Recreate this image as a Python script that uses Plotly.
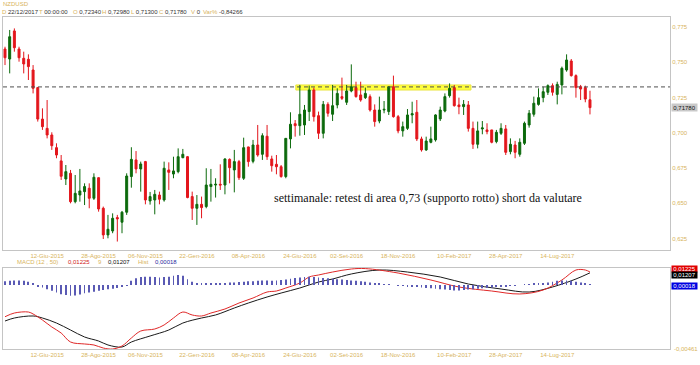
import pandas as pd
import plotly.graph_objects as go

# ---------------- data ----------------
start_date = "2015-04-10"
n_bars = 126
opens = [0.7594,0.7523,0.7722,0.7594,0.7528,0.7521,0.7445,0.7320,0.7097,0.7031,
         0.6984,0.6894,0.6800,0.6672,0.6712,0.6511,0.6558,0.6582,0.6606,0.6535,
         0.6681,0.6464,0.6275,0.6303,0.6398,0.6365,0.6436,0.6689,0.6807,0.6743,
         0.6795,0.6516,0.6523,0.6558,0.6523,0.6736,0.6707,0.6724,0.6823,0.6830,
         0.6547,0.6464,0.6492,0.6476,0.6618,0.6629,0.6634,0.6629,0.6811,0.6736,
         0.6795,0.6677,0.6899,0.6797,0.6913,0.6847,0.6975,0.6814,0.6776,0.6759,
         0.6689,0.6956,0.7064,0.7050,0.7055,0.7150,0.7303,0.7121,0.6996,0.7201,
         0.7131,0.7197,0.7256,0.7216,0.7296,0.7320,0.7268,0.7249,0.7256,0.7161,
         0.7083,0.7161,0.7150,0.7327,0.7114,0.7013,0.7031,0.7126,0.7145,0.6956,
         0.6878,0.6932,0.6949,0.7098,0.7154,0.7263,0.7320,0.7197,0.7185,0.7197,
         0.7031,0.6918,0.7027,0.7020,0.7020,0.6937,0.6996,0.7027,0.6866,0.6913,
         0.6847,0.6925,0.7055,0.7131,0.7201,0.7249,0.7287,0.7334,0.7272,0.7339,
         0.7445,0.7509,0.7405,0.7327,0.7320,0.7234]
highs = [0.7610,0.7729,0.7740,0.7610,0.7575,0.7556,0.7480,0.7325,0.7173,0.7232,
         0.7003,0.6925,0.6842,0.6771,0.6736,0.6700,0.6743,0.6641,0.6641,0.6712,
         0.6684,0.6476,0.6417,0.6428,0.6417,0.6445,0.6712,0.6897,0.6870,0.6795,
         0.6800,0.6580,0.6594,0.6582,0.6795,0.6790,0.6830,0.6889,0.6885,0.6835,
         0.6582,0.6558,0.6547,0.6748,0.6743,0.6677,0.6776,0.6818,0.6818,0.6878,
         0.6807,0.6965,0.6901,0.6949,0.7055,0.6996,0.7055,0.6837,0.6842,0.6771,
         0.6960,0.7145,0.7090,0.7339,0.7197,0.7334,0.7320,0.7150,0.7225,0.7216,
         0.7339,0.7315,0.7391,0.7339,0.7485,0.7362,0.7362,0.7320,0.7272,0.7201,
         0.7256,0.7225,0.7327,0.7405,0.7126,0.7079,0.7168,0.7220,0.7232,0.6972,
         0.6972,0.7043,0.7131,0.7185,0.7279,0.7350,0.7339,0.7249,0.7232,0.7225,
         0.7079,0.7079,0.7083,0.7067,0.7020,0.7020,0.7067,0.7055,0.6960,0.6942,
         0.6960,0.7079,0.7161,0.7256,0.7315,0.7327,0.7343,0.7350,0.7362,0.7469,
         0.7556,0.7523,0.7414,0.7339,0.7334,0.7298]
lows = [0.7480,0.7421,0.7575,0.7504,0.7421,0.7374,0.7279,0.7079,0.7020,0.6960,
        0.6878,0.6819,0.6665,0.6629,0.6499,0.6499,0.6511,0.6487,0.6464,0.6523,
        0.6440,0.6246,0.6251,0.6287,0.6228,0.6287,0.6417,0.6610,0.6712,0.6582,
        0.6492,0.6490,0.6421,0.6492,0.6511,0.6594,0.6677,0.6712,0.6819,0.6535,
        0.6381,0.6346,0.6393,0.6464,0.6511,0.6540,0.6594,0.6563,0.6641,0.6577,
        0.6665,0.6665,0.6759,0.6783,0.6830,0.6807,0.6807,0.6724,0.6705,0.6681,
        0.6677,0.6889,0.6972,0.6979,0.6984,0.7083,0.7079,0.6956,0.6960,0.7114,
        0.7083,0.7173,0.7232,0.7197,0.7287,0.7249,0.7220,0.7239,0.7150,0.7043,
        0.7067,0.7138,0.7126,0.7107,0.6996,0.6972,0.7020,0.7067,0.6941,0.6866,
        0.6871,0.6925,0.6937,0.7083,0.7145,0.7249,0.7185,0.7131,0.7126,0.7008,
        0.6885,0.6889,0.6989,0.6989,0.6925,0.6925,0.6984,0.6842,0.6847,0.6819,
        0.6830,0.6913,0.7036,0.7114,0.7192,0.7216,0.7268,0.7263,0.7201,0.7272,
        0.7433,0.7398,0.7249,0.7232,0.7216,0.7130]
closes = [0.7532,0.7681,0.7603,0.7532,0.7488,0.7469,0.7315,0.7097,0.7043,0.6984,
          0.6908,0.6842,0.6691,0.6724,0.6511,0.6570,0.6587,0.6618,0.6535,0.6684,
          0.6459,0.6275,0.6315,0.6393,0.6389,0.6436,0.6693,0.6811,0.6743,0.6778,
          0.6523,0.6547,0.6563,0.6528,0.6748,0.6719,0.6729,0.6830,0.6847,0.6540,
          0.6464,0.6492,0.6469,0.6629,0.6634,0.6634,0.6629,0.6814,0.6752,0.6795,
          0.6681,0.6894,0.6795,0.6913,0.6842,0.6979,0.6830,0.6766,0.6759,0.6689,
          0.6960,0.7060,0.7050,0.7131,0.7161,0.7303,0.7114,0.6996,0.7201,0.7138,
          0.7192,0.7279,0.7244,0.7296,0.7327,0.7256,0.7232,0.7279,0.7161,0.7079,
          0.7161,0.7166,0.7327,0.7114,0.7013,0.7043,0.7126,0.7135,0.6956,0.6878,
          0.6941,0.6956,0.7126,0.7161,0.7256,0.7315,0.7192,0.7185,0.7201,0.7031,
          0.6918,0.7013,0.7034,0.7008,0.6932,0.7003,0.7031,0.6861,0.6918,0.6861,
          0.6932,0.7067,0.7138,0.7209,0.7249,0.7291,0.7334,0.7287,0.7343,0.7457,
          0.7516,0.7405,0.7320,0.7310,0.7239,0.7178]

macd_idx = [0,2,5,6,8,10,12,14,17,19,21,23,25,27,29,32,34,36,38,40,42,44,47,50,
            53,56,58,60,63,65,67,70,74,77,84,91,97,104,110,115,119,122,124,125]
macd_vals = [0.00246,0.00327,0.00349,0.00306,0.00174,0.00021,-0.00111,-0.00308,
             -0.00351,-0.00373,-0.00440,-0.00461,-0.00395,-0.00220,-0.00067,-0.00023,
             0.00065,0.00218,0.00349,0.00284,0.00262,0.00327,0.00415,0.00546,
             0.00656,0.00787,0.00809,0.00875,0.00984,0.01116,0.01160,0.01225,
             0.01291,0.01300,0.01203,0.01050,0.00897,0.00809,0.00744,0.00831,
             0.01050,0.01269,0.01269,0.01225]
sig_idx = [0,2,6,8,11,14,17,20,22,25,27,31,35,38,42,45,49,52,56,59,63,67,70,74,
           80,86,93,99,106,112,117,122,125]
sig_vals = [0.00152,0.00218,0.00262,0.00218,0.00108,-0.00045,-0.00198,-0.00286,
            -0.00373,-0.00417,-0.00308,-0.00176,-0.00045,0.00108,0.00218,0.00284,
            0.00437,0.00546,0.00678,0.00765,0.00875,0.01006,0.01072,0.01182,
            0.01269,0.01225,0.01116,0.00962,0.00853,0.00787,0.00897,0.01072,0.01207]
hist_vals = [0.0009,0.0010,0.0011,0.0011,0.0010,0.0008,
             0.0003,-0.0003,
             -0.0006,-0.0010,-0.0014,-0.0018,-0.0022,-0.0024,-0.0026,-0.0025,-0.0023,-0.0020,-0.0018,-0.0016,
             -0.0014,-0.0012,-0.0010,-0.0009,-0.0007,-0.0005,-0.0002,
             0.0010,0.0016,0.0019,0.0020,0.0020,0.0019,0.0018,0.0019,0.0020,0.0022,0.0024,0.0022,
             0.0014,0.0008,0.0005,0.0004,0.0004,0.0004,0.0004,0.0005,0.0005,0.0006,0.0006,0.0007,0.0008,0.0009,0.0009,0.0010,0.0011,0.0011,
             0.0010,0.0011,0.0012,0.0013,0.0015,0.0017,0.0018,0.0019,0.0020,0.0019,0.0018,0.0017,0.0016,0.0015,0.0014,0.0013,0.0012,
             0.0011,0.0010,0.0009,0.0008,0.0006,0.0005,0.0003,0.0002,0.0001,0.0000,-0.0001,
             -0.0002,-0.0003,-0.0004,-0.0005,-0.0006,-0.0007,-0.0008,-0.0009,-0.0010,-0.0011,-0.0012,
             -0.0013,-0.0013,-0.0012,-0.0011,-0.0010,-0.0009,-0.0008,-0.0007,-0.0006,-0.0005,-0.0004,-0.0003,-0.0002,-0.0001,0.0000,
             0.0001,0.0002,0.0003,0.0004,0.0005,0.0006,0.0008,0.0010,0.0011,0.0011,0.0010,0.0008,0.0006,0.0003,0.00018]

tick_dates = ["2015-06-12","2015-08-28","2015-11-06","2016-01-22","2016-04-08",
              "2016-06-24","2016-09-02","2016-11-18","2017-02-10","2017-04-28","2017-07-14"]
tick_labels = ["12-Giu-2015","28-Ago-2015","06-Nov-2015","22-Gen-2016","08-Apr-2016",
               "24-Giu-2016","02-Set-2016","18-Nov-2016","10-Feb-2017","28-Apr-2017","14-Lug-2017"]
price_ticks = [0.625,0.650,0.675,0.700,0.725,0.750,0.775]
price_tick_labels = ["0,625","0,650","0,675","0,700","0,725","0,750","0,775"]

level = 0.7325
zone_low, zone_high = 0.7303, 0.7339
zone_start, zone_end = "2016-06-18", "2017-03-07"
last_price = 0.7178
macd_last, sig_last, hist_last, macd_min = 0.01225, 0.01207, 0.00018, -0.00461
note = "settimanale: retest di area 0,73 (supporto rotto) short da valutare"

# ---------------- figure ----------------
dates = pd.date_range(start_date, periods=n_bars, freq="7D")
x_start = dates[0] - pd.Timedelta(days=3)
x_end = dates[0] + pd.Timedelta(days=7 * 142.1)

YEL = "#d8b45c"
W, H = 700, 365
ML, MR, MT, MB = 3, 30, 17, 16
PW, PH = W - ML - MR, H - MT - MB


def px_x(X):
    return (X - ML) / PW


def px_y(Y):
    return (H - MB - Y) / PH


fig = go.Figure()
fig.add_trace(go.Candlestick(
    x=dates, open=opens, high=highs, low=lows, close=closes,
    increasing=dict(line=dict(color="#0c6a0c", width=1), fillcolor="#0c6a0c"),
    decreasing=dict(line=dict(color="#e3161c", width=1), fillcolor="#e3161c"),
    whiskerwidth=0, xaxis="x", yaxis="y", hoverinfo="skip", showlegend=False))

fig.add_trace(go.Bar(
    x=dates, y=hist_vals, width=1.1e8, marker=dict(color="#5a5ab4", line=dict(width=0)),
    xaxis="x2", yaxis="y3", showlegend=False, hoverinfo="skip"))
fig.add_trace(go.Scatter(
    x=[dates[i] for i in sig_idx], y=sig_vals, mode="lines", line=dict(color="#1a1a1a", width=1, shape="spline"),
    xaxis="x2", yaxis="y2", showlegend=False, hoverinfo="skip"))
fig.add_trace(go.Scatter(
    x=[dates[i] for i in macd_idx], y=macd_vals, mode="lines", line=dict(color="#e02828", width=1, shape="spline"),
    xaxis="x2", yaxis="y2", showlegend=False, hoverinfo="skip"))

main_bottom = px_y(250)
macd_top = px_y(268)

axis_common = dict(showgrid=False, zeroline=False, showline=True, mirror=True,
                   linecolor="#c4c4c4", linewidth=1)
fig.update_layout(
    width=W, height=H, margin=dict(l=ML, r=MR, t=MT, b=MB),
    paper_bgcolor="white", plot_bgcolor="white", boxgap=0.4,
    font=dict(family="Liberation Sans, Arial", size=6, color=YEL),
    xaxis=dict(domain=[0, 1], anchor="y", range=[x_start, x_end], rangeslider=dict(visible=False),
               tickvals=tick_dates, ticktext=tick_labels, ticks="", tickfont=dict(size=6, color=YEL),
               **axis_common),
    yaxis=dict(domain=[main_bottom, 1], anchor="x", side="right", range=[0.6168, 0.7821],
               tickvals=price_ticks, ticktext=price_tick_labels, ticks="",
               tickfont=dict(size=6, color=YEL), **axis_common),
    xaxis2=dict(domain=[0, 1], anchor="y2", matches="x", range=[x_start, x_end],
                tickvals=tick_dates, ticktext=tick_labels, ticks="", tickfont=dict(size=6, color=YEL),
                **axis_common),
    yaxis2=dict(domain=[0, macd_top], anchor="x2", side="right", range=[macd_min, 0.01313],
                showticklabels=False, ticks="", **axis_common),
    yaxis3=dict(overlaying="y2", anchor="x2", range=[-0.01536, 0.00408], visible=False),
)

# resistance zone + dashed level
fig.add_shape(type="rect", xref="x", yref="y", x0=zone_start, x1=zone_end, y0=zone_low, y1=zone_high,
              fillcolor="#ffff1a", opacity=0.85, line=dict(color="#e8e020", width=1), layer="below")
fig.add_shape(type="line", xref="paper", yref="y", x0=0, x1=1, y0=level, y1=level,
              line=dict(color="#505050", width=1, dash="4px,3px"), layer="above")

ann = []
# note
ann.append(dict(x=px_x(428), y=px_y(198), xref="paper", yref="paper", text=note, showarrow=False,
                yanchor="middle",
                font=dict(family="Liberation Serif, Times New Roman", size=12, color="#111111")))
# header
ann.append(dict(x=px_x(1), y=px_y(4), xref="paper", yref="paper", xanchor="left", yanchor="middle",
                text="NZDUSD", showarrow=False, font=dict(size=6, color=YEL)))
header_items = [(0, "D", "22/12/2017"), (37, "T", "00:00:00"), (71, "O", "0,72340"), (100, "H", "0,72980"),
                (129, "L", "0,71300"), (157, "C", "0,71780"), (189, "V", "0"), (201, "Var%", "-0,84266")]
for X, lab, val in header_items:
    ann.append(dict(x=px_x(X), y=px_y(12), xref="paper", yref="paper", xanchor="left", yanchor="middle",
                    showarrow=False,
                    text=f"<span style='color:{YEL}'>{lab}</span> <span style='color:#333333'>{val}</span>",
                    font=dict(size=6)))
# MACD header
macd_items = [(15, "MACD", YEL), (34, "(12 , 50)", YEL), (66, "0,01225", "#d01818"), (96, "9", YEL),
              (106, "0,01207", "#111111"), (136, "Hist", YEL), (153, "0,00018", "#2a2aa0")]
for X, txt, col in macd_items:
    ann.append(dict(x=px_x(X), y=px_y(262), xref="paper", yref="paper", xanchor="left", yanchor="middle",
                    showarrow=False, text=txt, font=dict(size=6, color=col)))
# right-side value labels
ann.append(dict(x=px_x(671), y=last_price, xref="paper", yref="y", xanchor="left", yanchor="middle",
                showarrow=False, text="0,71780", bgcolor="#c9c9c9", width=25, height=7, borderpad=0,
                font=dict(size=6, color="#111111")))
for val, txt, bg, Yp in [(macd_last, "0,01225", "#e00000", 268.5), (sig_last, "0,01207", "#000000", 275),
                         (hist_last, "0,00018", "#0000e0", 286)]:
    ann.append(dict(x=px_x(671), y=px_y(Yp), xref="paper", yref="paper", xanchor="left", yanchor="middle",
                    showarrow=False, text=txt, bgcolor=bg, width=25, height=6, borderpad=0,
                    font=dict(size=6, color="white")))
ann.append(dict(x=px_x(672), y=macd_min, xref="paper", yref="y2", xanchor="left", yanchor="middle",
                showarrow=False, text="-0,00461", font=dict(size=6, color=YEL)))
fig.update_layout(annotations=ann)

fig.write_html("out.html", config={"displayModeBar": False},
               post_script="document.body.style.margin='0';document.body.style.padding='0';")
